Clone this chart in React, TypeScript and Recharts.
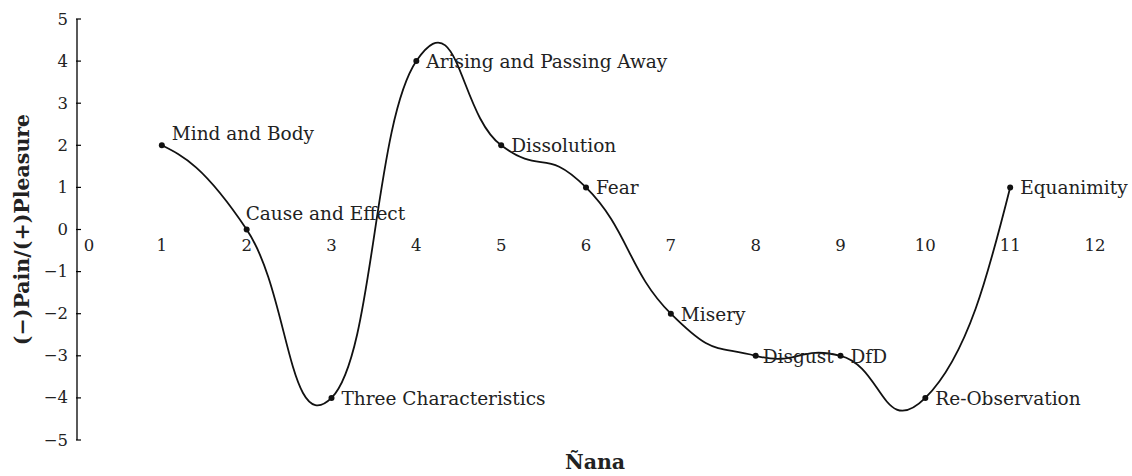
import React from 'react';
import { ComposedChart, Line, Scatter, XAxis, YAxis, LabelList } from 'recharts';

// ---- data ----
const stageNames = [
  'Mind and Body',
  'Cause and Effect',
  'Three Characteristics',
  'Arising and Passing Away',
  'Dissolution',
  'Fear',
  'Misery',
  'Disgust',
  'DfD',
  'Re-Observation',
  'Equanimity',
];
const stageX = [1, 2, 3, 4, 5, 6, 7, 8, 9, 10, 11];
const stageY = [2, 0, -4, 4, 2, 1, -2, -3, -3, -4, 1];
const xTicks = [0, 1, 2, 3, 4, 5, 6, 7, 8, 9, 10, 11, 12];
const yTicks = [-5, -4, -3, -2, -1, 0, 1, 2, 3, 4, 5];
const xTitle = 'Ñana';
const yTitle = '(−)Pain/(+)Pleasure';

const data = stageNames.map((name, i) => ({ x: stageX[i], y: stageY[i], name }));
const xTickData = xTicks.map((t) => ({ x: t, y: 0 }));

// label offsets (style only)
const labelDx: Record<string, number> = { 'Cause and Effect': -1, Disgust: 7 };
const labelDy: Record<string, number> = { 'Mind and Body': -5, 'Cause and Effect': -10 };

const FONT = '"DejaVu Serif", serif';

// Excel-like smoothed curve (cardinal Bezier, natural ends)
const K = 0.25;
function smoothCurve(context: any) {
  let pts: number[][] = [];
  return {
    areaStart() {},
    areaEnd() {},
    lineStart() {
      pts = [];
    },
    lineEnd() {
      const n = pts.length;
      if (!n) return;
      context.moveTo(pts[0][0], pts[0][1]);
      if (n === 1) return;
      if (n === 2) {
        context.lineTo(pts[1][0], pts[1][1]);
        return;
      }
      for (let i = 0; i < n - 1; i++) {
        const p1 = pts[i];
        const p2 = pts[i + 1];
        let c1: number[];
        let c2: number[];
        if (i > 0) {
          const p0 = pts[i - 1];
          c1 = [p1[0] + K * (p2[0] - p0[0]), p1[1] + K * (p2[1] - p0[1])];
        } else c1 = [];
        if (i < n - 2) {
          const p3 = pts[i + 2];
          c2 = [p2[0] - K * (p3[0] - p1[0]), p2[1] - K * (p3[1] - p1[1])];
        } else c2 = [];
        if (i === 0) c1 = [(p1[0] + c2[0]) / 2, (p1[1] + c2[1]) / 2];
        if (i === n - 2) c2 = [(p2[0] + c1[0]) / 2, (p2[1] + c1[1]) / 2];
        context.bezierCurveTo(c1[0], c1[1], c2[0], c2[1], p2[0], p2[1]);
      }
    },
    point(x: number, y: number) {
      pts.push([+x, +y]);
    },
  };
}

const fmt = (v: number) => (v < 0 ? '−' + Math.abs(v) : String(v));

const YTick = (props: any) => {
  const { x, y, payload } = props;
  return (
    <g>
      <line x1={x - 1} x2={x + 4} y1={y} y2={y} stroke="#000" strokeWidth={1.2} />
      <text
        x={x - 9}
        y={y}
        textAnchor="end"
        dominantBaseline="central"
        fontFamily={FONT}
        fontSize={16.5}
        fill="#222"
      >
        {fmt(payload.value)}
      </text>
    </g>
  );
};

const XTickShape = (props: any) => {
  const { cx, cy, payload } = props;
  const dx = payload.x === 0 ? 12 : 0;
  return (
    <text
      x={cx + dx}
      y={cy + 16}
      textAnchor="middle"
      dominantBaseline="central"
      fontFamily={FONT}
      fontSize={16.5}
      fill="#222"
    >
      {payload.x}
    </text>
  );
};

const StageLabel = (props: any) => {
  const { x, y, value } = props;
  const dx = labelDx[value] ?? 10;
  const dy = labelDy[value] ?? 7;
  return (
    <text x={x + dx} y={y + dy} fontFamily={FONT} fontSize={18.5} fill="#222">
      {value}
    </text>
  );
};

const Dot = (props: any) => {
  const { cx, cy } = props;
  return <circle cx={cx} cy={cy} r={3} fill="#111" stroke="none" />;
};

export default function App() {
  return (
    <div style={{ position: 'absolute', left: 0, top: 0, background: '#fff' }}>
      <ComposedChart
        width={1132}
        height={476}
        data={data}
        margin={{ top: 19, right: 37, bottom: 0, left: 0 }}
      >
        <XAxis
          dataKey="x"
          type="number"
          domain={[0, 12]}
          ticks={xTicks}
          height={36}
          axisLine={false}
          tickLine={false}
          tick={false}
          label={(p: any) => {
            const vb = p.viewBox;
            return (
              <text
                x={vb.x + vb.width / 2 + 9}
                y={vb.y + 29}
                textAnchor="middle"
                fontFamily={FONT}
                fontWeight="bold"
                fontSize={20.5}
                fill="#222"
              >
                {xTitle}
              </text>
            );
          }}
        />
        <YAxis
          dataKey="y"
          type="number"
          domain={[-5, 5]}
          ticks={yTicks}
          width={77}
          axisLine={{ stroke: '#000', strokeWidth: 1.3 }}
          tickLine={false}
          tickSize={0}
          tickMargin={0}
          tick={<YTick />}
          interval={0}
          label={(p: any) => {
            const vb = p.viewBox;
            const cy = vb.y + vb.height / 2;
            return (
              <text
                x={29}
                y={cy}
                transform={`rotate(-90, 29, ${cy})`}
                textAnchor="middle"
                fontFamily={FONT}
                fontWeight="bold"
                fontSize={20.5}
                fill="#222"
              >
                {yTitle}
              </text>
            );
          }}
        />
        <Scatter
          data={xTickData}
          dataKey="y"
          shape={<XTickShape />}
          isAnimationActive={false}
        />
        <Line
          dataKey="y"
          type={smoothCurve as any}
          stroke="#111"
          strokeWidth={1.8}
          dot={<Dot />}
          activeDot={false}
          isAnimationActive={false}
        >
          <LabelList dataKey="name" content={<StageLabel />} />
        </Line>
      </ComposedChart>
    </div>
  );
}
